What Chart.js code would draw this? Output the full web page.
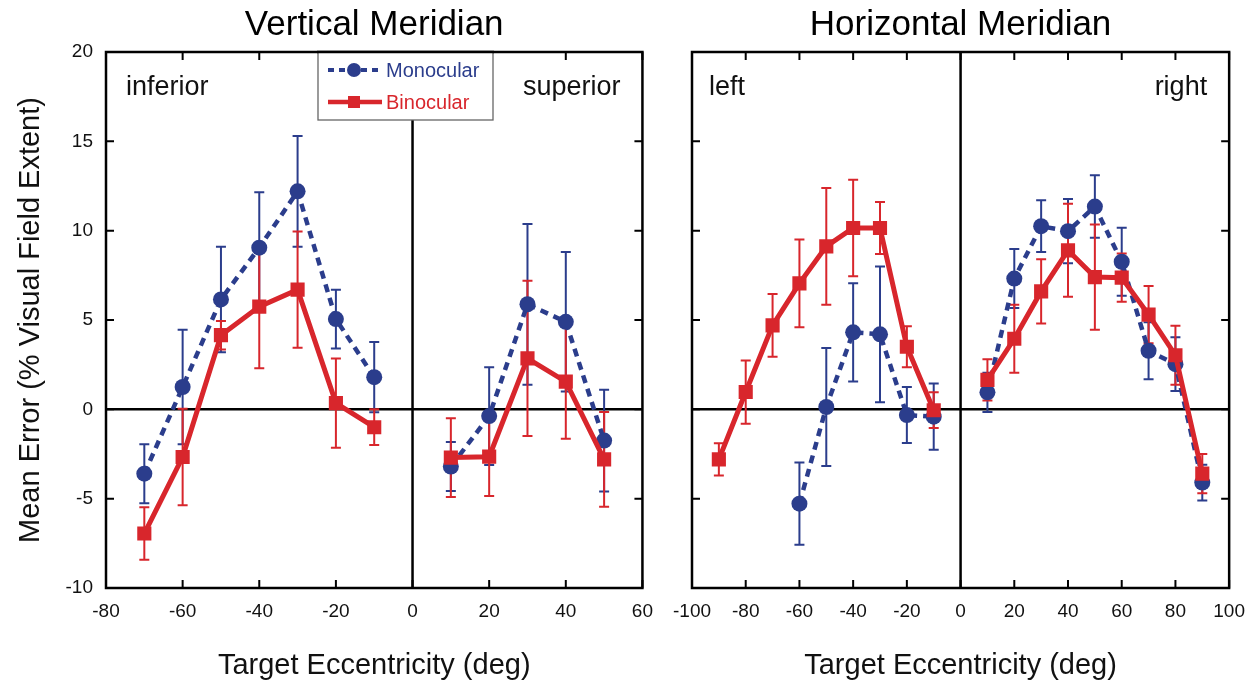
<!DOCTYPE html>
<html><head><meta charset="utf-8">
<script src="https://cdn.jsdelivr.net/npm/chart.js@4.4.1/dist/chart.umd.min.js"></script>
<style>
html,body{margin:0;padding:0;background:#fff;width:1251px;height:683px;overflow:hidden;position:relative}
#c1{position:absolute;left:0;top:0}
#c2{position:absolute;left:660px;top:0}
</style></head><body>
<canvas id="c1" width="665" height="683"></canvas>
<canvas id="c2" width="597" height="683"></canvas>
<script>
// ---- Data ----
const seriesNames = ['Monocular', 'Binocular'];
const panelTitles = ['Vertical Meridian', 'Horizontal Meridian'];
const vmRegions = ['inferior', 'superior'];
const hmRegions = ['left', 'right'];
const xTitle = 'Target Eccentricity (deg)';
const yTitle = 'Mean Error (% Visual Field Extent)';

// Vertical meridian (null = gap at 0)
const vmX       = [-70, -60, -50, -40, -30, -20, -10, 0, 10, 20, 30, 40, 50];
const vmMono    = [-3.6, 1.25, 6.15, 9.05, 12.2, 5.05, 1.8, null, -3.2, -0.38, 5.88, 4.9, -1.75];
const vmMonoErr = [1.65, 3.2, 2.95, 3.1, 3.1, 1.65, 1.97, null, 1.37, 2.73, 4.5, 3.9, 2.85];
const vmBino    = [-6.95, -2.67, 4.15, 5.75, 6.7, 0.35, -1.0, null, -2.7, -2.65, 2.85, 1.55, -2.8];
const vmBinoErr = [1.47, 2.7, 0.8, 3.45, 3.25, 2.5, 1.0, null, 2.2, 2.2, 4.34, 3.2, 2.65];

// Horizontal meridian
const hmX       = [-90, -80, -70, -60, -50, -40, -30, -20, -10, 0, 10, 20, 30, 40, 50, 60, 70, 80, 90];
const hmMono    = [null, null, null, -5.28, 0.13, 4.31, 4.2, -0.32, -0.41, null, 0.95, 7.32, 10.25, 9.97, 11.35, 8.26, 3.28, 2.53, -4.1];
const hmMonoErr = [null, null, null, 2.3, 3.3, 2.75, 3.8, 1.57, 1.85, null, 1.1, 1.65, 1.45, 1.8, 1.75, 1.9, 1.6, 1.5, 1.0];
const hmBino    = [-2.8, 0.97, 4.7, 7.05, 9.12, 10.15, 10.15, 3.5, -0.05, null, 1.65, 3.95, 6.6, 8.9, 7.4, 7.37, 5.3, 3.03, -3.6];
const hmBinoErr = [0.9, 1.77, 1.75, 2.45, 3.27, 2.7, 1.45, 1.15, 1.0, null, 1.15, 1.9, 1.8, 2.6, 2.95, 1.35, 1.6, 1.65, 1.1];

const yTicksMin = -10, yTicksMax = 20, yStep = 5;

// ---- Styles ----
const BLUE = '#2b3d8c';
const RED = '#d8262c';
const FONT = "'Liberation Sans', Arial, Helvetica, sans-serif";

function pts(xs, ys) { return xs.map((x, i) => ({x: x, y: ys[i]})); }

function makeDatasets(xs, mono, monoErr, bino, binoErr) {
  return [
    { label: seriesNames[0], data: pts(xs, mono), errors: monoErr,
      borderColor: BLUE, backgroundColor: BLUE, borderWidth: 4.5, borderDash: [8, 6],
      pointStyle: 'circle', pointRadius: 8, pointBorderWidth: 0, pointBackgroundColor: BLUE,
      spanGaps: false, order: 2, tension: 0 },
    { label: seriesNames[1], data: pts(xs, bino), errors: binoErr,
      borderColor: RED, backgroundColor: RED, borderWidth: 5,
      pointStyle: 'rect', pointRadius: 10, pointBorderWidth: 0, pointBackgroundColor: RED,
      spanGaps: false, order: 1, tension: 0 }
  ];
}

const framePlugin = {
  id: 'frame',
  beforeDatasetsDraw(chart) {
    const ctx = chart.ctx, a = chart.chartArea;
    const xs = chart.scales.x, ys = chart.scales.y;
    ctx.save();
    ctx.strokeStyle = '#000'; ctx.lineWidth = 2.5;
    const x0 = xs.getPixelForValue(0), y0 = ys.getPixelForValue(0);
    ctx.beginPath(); ctx.moveTo(x0, a.top); ctx.lineTo(x0, a.bottom); ctx.stroke();
    ctx.beginPath(); ctx.moveTo(a.left, y0); ctx.lineTo(a.right, y0); ctx.stroke();
    chart.data.datasets.forEach(ds => {
      ctx.strokeStyle = ds.borderColor; ctx.lineWidth = 2;
      ds.data.forEach((p, i) => {
        const e = ds.errors[i];
        if (p.y === null || e === null) return;
        const px = xs.getPixelForValue(p.x);
        const pt = ys.getPixelForValue(p.y + e), pb = ys.getPixelForValue(p.y - e);
        ctx.beginPath();
        ctx.moveTo(px, pt); ctx.lineTo(px, pb);
        ctx.moveTo(px - 5, pt); ctx.lineTo(px + 5, pt);
        ctx.moveTo(px - 5, pb); ctx.lineTo(px + 5, pb);
        ctx.stroke();
      });
    });
    ctx.restore();
  },
  afterDraw(chart, args, opts) {
    const ctx = chart.ctx, a = chart.chartArea;
    const xs = chart.scales.x, ys = chart.scales.y;
    ctx.save();
    ctx.strokeStyle = '#000'; ctx.lineWidth = 2;
    const tl = 8;
    ctx.beginPath();
    xs.ticks.forEach(t => {
      const px = xs.getPixelForValue(t.value);
      ctx.moveTo(px, a.bottom); ctx.lineTo(px, a.bottom - tl);
      ctx.moveTo(px, a.top); ctx.lineTo(px, a.top + tl);
    });
    ys.ticks.forEach(t => {
      const py = ys.getPixelForValue(t.value);
      ctx.moveTo(a.left, py); ctx.lineTo(a.left + tl, py);
      ctx.moveTo(a.right, py); ctx.lineTo(a.right - tl, py);
    });
    ctx.stroke();
    ctx.lineWidth = 2.5;
    ctx.strokeRect(a.left, a.top, a.right - a.left, a.bottom - a.top);

    // region labels
    ctx.fillStyle = '#111';
    ctx.font = '27px ' + FONT;
    ctx.textBaseline = 'middle';
    ctx.textAlign = 'left';
    ctx.fillText(opts.regions[0], a.left + opts.regionInset[0], a.top + 36);
    ctx.textAlign = 'right';
    ctx.fillText(opts.regions[1], a.right - opts.regionInset[1], a.top + 36);

    // panel title
    ctx.textAlign = 'center';
    ctx.font = '35px ' + FONT;
    ctx.fillStyle = '#000';
    ctx.fillText(opts.title, (a.left + a.right) / 2, 25);

    // legend
    if (opts.legend) {
      const lx = 318, rx = 493;
      const top = a.top, bot = 120;
      ctx.fillStyle = '#fff';
      ctx.fillRect(lx, top, rx - lx, bot - top);
      ctx.strokeStyle = '#666'; ctx.lineWidth = 1.3;
      ctx.strokeRect(lx, top, rx - lx, bot - top);
      ctx.strokeStyle = '#000'; ctx.lineWidth = 2.5;
      ctx.beginPath(); ctx.moveTo(lx - 1, top); ctx.lineTo(rx + 1, top); ctx.stroke();
      const rows = [70, 102];
      chart.data.datasets.forEach((ds, i) => {
        const y = rows[i];
        ctx.strokeStyle = ds.borderColor; ctx.lineWidth = ds.borderWidth - 0.5;
        ctx.setLineDash(ds.borderDash ? [6, 5] : []);
        ctx.beginPath(); ctx.moveTo(lx + 10, y); ctx.lineTo(lx + 64, y); ctx.stroke();
        ctx.setLineDash([]);
        ctx.fillStyle = ds.borderColor;
        if (ds.pointStyle === 'circle') {
          ctx.beginPath(); ctx.arc(lx + 36, y, 7, 0, Math.PI * 2); ctx.fill();
        } else {
          ctx.fillRect(lx + 30, y - 6, 12, 12);
        }
        ctx.font = '20px ' + FONT;
        ctx.textAlign = 'left';
        ctx.fillText(ds.label, lx + 68, y + 1);
      });
    }
    ctx.restore();
  }
};

const tickFont = { family: FONT, size: 19 };

function makeChart(id, xs, datasets, xmin, xmax, pad, showY, plugOpts) {
  return new Chart(document.getElementById(id), {
    type: 'line',
    data: { datasets: datasets },
    options: {
      responsive: false, animation: false, devicePixelRatio: 1,
      layout: { padding: pad },
      plugins: { legend: { display: false }, tooltip: { enabled: false }, frame: plugOpts },
      scales: {
        x: {
          type: 'linear', min: xmin, max: xmax,
          ticks: { stepSize: 20, font: tickFont, color: '#111', padding: 12, maxRotation: 0, autoSkip: false },
          grid: { display: false, drawTicks: false }, border: { display: false },
          title: { display: true, text: xTitle, color: '#111', font: { family: FONT, size: 29 }, padding: { top: 0, bottom: 0 } },
          afterFit(axis) { axis.height = 95; }
        },
        y: {
          display: showY, min: yTicksMin, max: yTicksMax,
          ticks: { stepSize: yStep, font: tickFont, color: '#111', padding: 13 },
          grid: { display: false, drawTicks: false }, border: { display: false },
          title: { display: true, text: yTitle, color: '#111', font: { family: FONT, size: 29 }, padding: { top: 14, bottom: 0 } },
          afterFit(axis) { if (showY) axis.width = 106; }
        }
      }
    },
    plugins: [framePlugin]
  });
}

makeChart('c1', vmX, makeDatasets(vmX, vmMono, vmMonoErr, vmBino, vmBinoErr), -80, 60,
  { left: 0, right: 12, top: 52, bottom: 0 }, true,
  { title: panelTitles[0], regions: vmRegions, regionInset: [20, 22], legend: true });

makeChart('c2', hmX, makeDatasets(hmX, hmMono, hmMonoErr, hmBino, hmBinoErr), -100, 100,
  { left: 32, right: 17, top: 52, bottom: 0 }, false,
  { title: panelTitles[1], regions: hmRegions, regionInset: [17, 22], legend: false });
</script>
</body></html>
